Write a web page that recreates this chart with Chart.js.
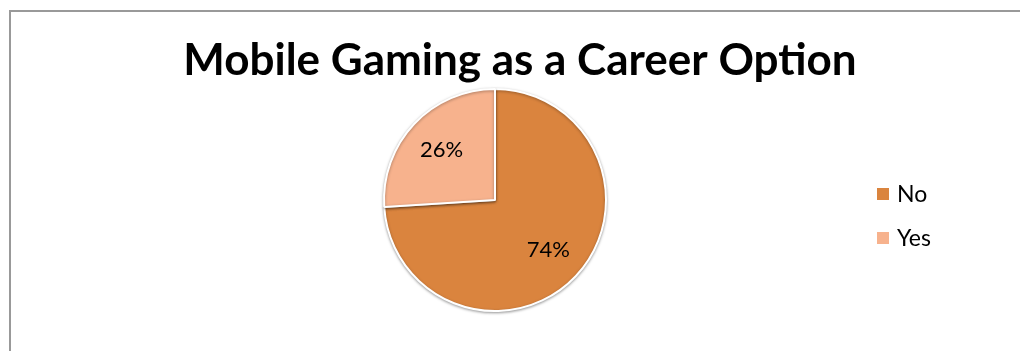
<!DOCTYPE html>
<html lang="en">
<head>
  <meta charset="UTF-8" />
  <title>Mobile Gaming as a Career Option</title>
  <script src="https://cdn.jsdelivr.net/npm/chart.js"></script>
  <style>
    html, body {
      margin: 0;
      padding: 0;
      background: #ffffff;
      overflow: hidden;
    }
    #frame {
      position: absolute;
      left: 9px;
      top: 10px;
      width: 1100px;
      height: 400px;
      border-left: 2px solid #999999;
      border-top: 2px solid #999999;
    }
    #wrap {
      position: absolute;
      left: 0;
      top: 0;
      width: 1020px;
      height: 351px;
    }
  </style>
</head>
<body>
  <div id="frame"></div>
  <div id="wrap"><canvas id="careerChart"></canvas></div>

  <script>
    const TITLE = "Mobile Gaming as a Career Option";
    const answers = ["No", "Yes"];
    const shares = [74, 26];
    const sliceColors = ["#DA843E", "#F7B28D"];

    const FONT = "Lato, 'Open Sans', sans-serif";

    // title, percentage labels and legend are drawn by hand
    const decorations = {
      id: "decorations",
      beforeDatasetsDraw(chart) {
        const ctx = chart.ctx;
        ctx.save();
        ctx.shadowColor = "rgba(0,0,0,0.35)";
        ctx.shadowBlur = 3;
        ctx.shadowOffsetX = 0;
        ctx.shadowOffsetY = 1;
      },
      afterDatasetsDraw(chart) {
        const ctx = chart.ctx;
        ctx.restore();

        // title
        ctx.save();
        ctx.fillStyle = "#000000";
        ctx.font = "bold 44px " + FONT;
        ctx.textAlign = "center";
        ctx.textBaseline = "alphabetic";
        ctx.fillText(TITLE, 520, 75);

        // percentage labels inside the slices
        const meta = chart.getDatasetMeta(0);
        ctx.font = "22px " + FONT;
        ctx.textBaseline = "middle";
        meta.data.forEach((arc, i) => {
          const p = arc.getProps(["x", "y", "startAngle", "endAngle", "outerRadius"], true);
          const mid = (p.startAngle + p.endAngle) / 2;
          const r = p.outerRadius * 0.66;
          ctx.fillText(shares[i] + "%", p.x + Math.cos(mid) * r, p.y + Math.sin(mid) * r);
        });

        // legend
        ctx.textAlign = "left";
        ctx.font = "23px " + FONT;
        answers.forEach((label, i) => {
          const y = 194 + i * 44;
          ctx.fillStyle = sliceColors[i];
          ctx.fillRect(877, y - 6, 12, 12);
          ctx.fillStyle = "#000000";
          ctx.fillText(label, 897, y + 1);
        });
        ctx.restore();
      }
    };

    new Chart(document.getElementById("careerChart"), {
      type: "pie",
      data: {
        labels: answers,
        datasets: [{
          data: shares,
          backgroundColor: sliceColors,
          borderColor: "#ffffff",
          borderWidth: 2
        }]
      },
      options: {
        responsive: true,
        maintainAspectRatio: false,
        animation: false,
        radius: 111,
        layout: {
          padding: { left: 384, right: 414, top: 89, bottom: 40 }
        },
        plugins: {
          legend: { display: false },
          title: { display: false },
          tooltip: { enabled: false }
        }
      },
      plugins: [decorations]
    });
  </script>
</body>
</html>
